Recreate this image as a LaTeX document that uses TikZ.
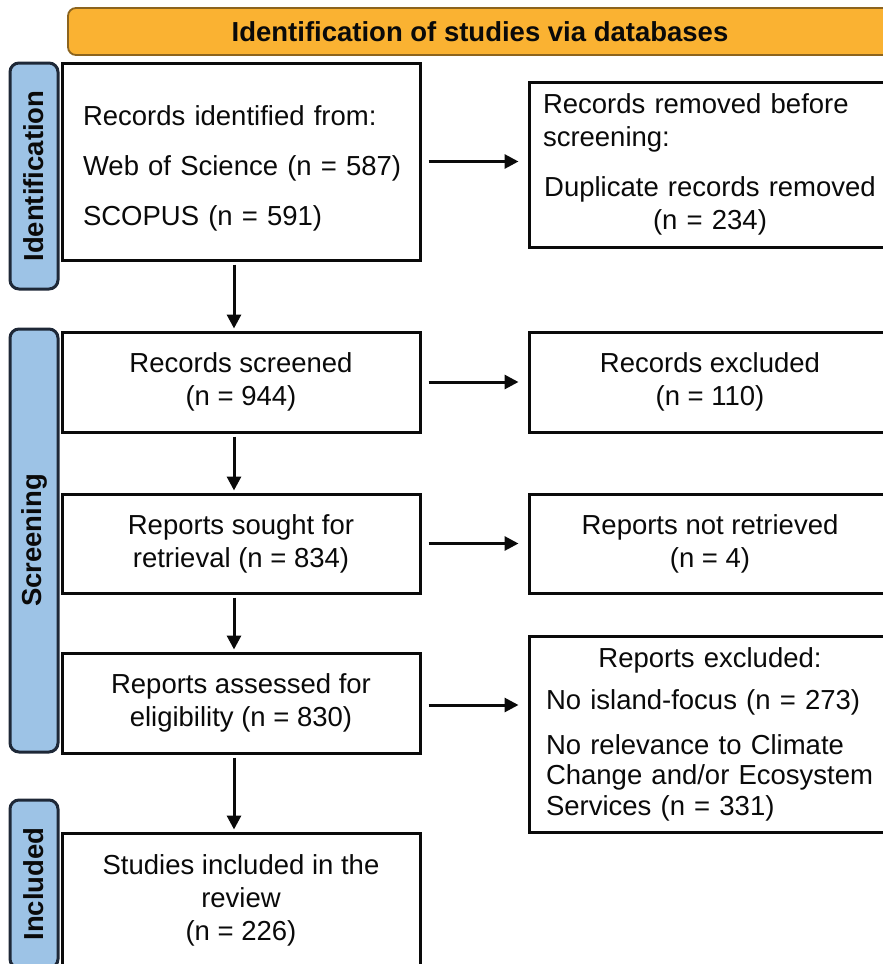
\documentclass[tikz,border=0pt]{standalone}
\usepackage{fontspec}
\setmainfont{Liberation Sans}
\usetikzlibrary{arrows.meta}
\definecolor{bannerfill}{RGB}{250,178,50}
\definecolor{bannerdraw}{RGB}{140,100,30}
\definecolor{sidefill}{RGB}{157,195,230}
\definecolor{sidedraw}{RGB}{30,40,55}
\definecolor{ink}{RGB}{10,10,10}
\begin{document}
\begin{tikzpicture}[x=1pt,y=-1pt,
  every node/.style={font=\fontsize{27.5}{33}\selectfont, text=ink},
  box/.style={draw=ink, line width=3pt, fill=white, inner sep=0pt},
  sidelab/.style={draw=sidedraw, fill=sidefill, line width=3pt, rounded corners=9pt,
    rotate=90, minimum height=48pt, inner sep=0pt,
    font=\bfseries\fontsize{27.5}{33}\selectfont},
  banner/.style={draw=bannerdraw, fill=bannerfill, line width=1.8pt, rounded corners=8pt,
    inner sep=0pt, font=\bfseries\fontsize{27.5}{33}\selectfont},
  arr/.style={draw=ink, line width=3pt, -{Triangle[length=14pt,width=14pt]}},
]
\useasboundingbox (0,0) rectangle (883,964);
\clip (0,0) rectangle (883,964);

% banner
\node[banner, minimum width=824pt, minimum height=47pt] (ban) at (480,31.5)
  {Identification of studies via databases};

% side labels
\node[sidelab, minimum width=226pt] (sid) at (34,176) {Identification};
\node[sidelab, minimum width=423pt] (sscr) at (34,540.5) {Screening};
\node[sidelab, minimum width=168pt] (sinc) at (34,884) {Included};

% left column
\node[box, minimum width=358pt, minimum height=197pt, text width=316pt] (idb) at (241,161.5)
  {\raggedright\rule{0pt}{33pt}\mbox{Records identified from:}\\[17pt]
   \mbox{Web of Science (n = 587)}\\[17pt]
   \mbox{SCOPUS (n = 591)}\par};
\node[box, minimum width=358pt, minimum height=100pt, align=center] (scr) at (241,382)
  {Records screened\\(n = 944)};
\node[box, minimum width=358pt, minimum height=99pt, align=center] (sou) at (241,543.5)
  {Reports sought for\\retrieval (n = 834)};
\node[box, minimum width=358pt, minimum height=100pt, align=center] (asb) at (241,703)
  {Reports assessed for\\eligibility (n = 830)};
\node[box, minimum width=358pt, minimum height=134pt, align=center] (stu) at (241,900)
  {Studies included in the\\review\\(n = 226)};

% right column
\node[box, minimum width=362pt, minimum height=165pt, text width=334pt] (rem) at (710,164.5)
  {\raggedright \mbox{Records removed before}\\screening:\par
   \vspace{17pt}\centering \mbox{Duplicate records removed}\\(n = 234)\par};
\node[box, minimum width=362pt, minimum height=100pt, align=center] (rexc) at (710,382)
  {Records excluded\\(n = 110)};
\node[box, minimum width=362pt, minimum height=99pt, align=center] (rnr) at (710,543.5)
  {Reports not retrieved\\(n = 4)};
\node[box, minimum width=362pt, minimum height=196pt, text width=328pt] (rex) at (710,734)
  {\centering Reports excluded:\par
   \vspace{9pt}\raggedright \mbox{No island-focus (n = 273)}\par
   \vspace{12pt}\mbox{No relevance to Climate}\\[-2.5pt]
   \mbox{Change and/or Ecosystem}\\[-2.5pt]
   \mbox{Services (n = 331)}\par};

% vertical arrows
\draw[arr, shorten <=3pt, shorten >=2pt] ([xshift=-7pt]idb.south) -- ([xshift=-7pt]scr.north);
\draw[arr, shorten <=3pt, shorten >=2pt] ([xshift=-7pt]scr.south) -- ([xshift=-7pt]sou.north);
\draw[arr, shorten <=3pt, shorten >=2pt] ([xshift=-7pt]sou.south) -- ([xshift=-7pt]asb.north);
\draw[arr, shorten <=3pt, shorten >=2pt] ([xshift=-7pt]asb.south) -- ([xshift=-7pt]stu.north);

% horizontal arrows
\draw[arr, shorten <=7pt, shorten >=9pt] (idb.east) -- (idb.east -| rem.west);
\draw[arr, shorten <=7pt, shorten >=9pt] (scr.east) -- (scr.east -| rexc.west);
\draw[arr, shorten <=7pt, shorten >=9pt] (sou.east) -- (sou.east -| rnr.west);
\draw[arr, shorten <=7pt, shorten >=9pt] ([yshift=-2pt]asb.east) -- ([yshift=-2pt]asb.east -| rex.west);
\end{tikzpicture}
\end{document}
